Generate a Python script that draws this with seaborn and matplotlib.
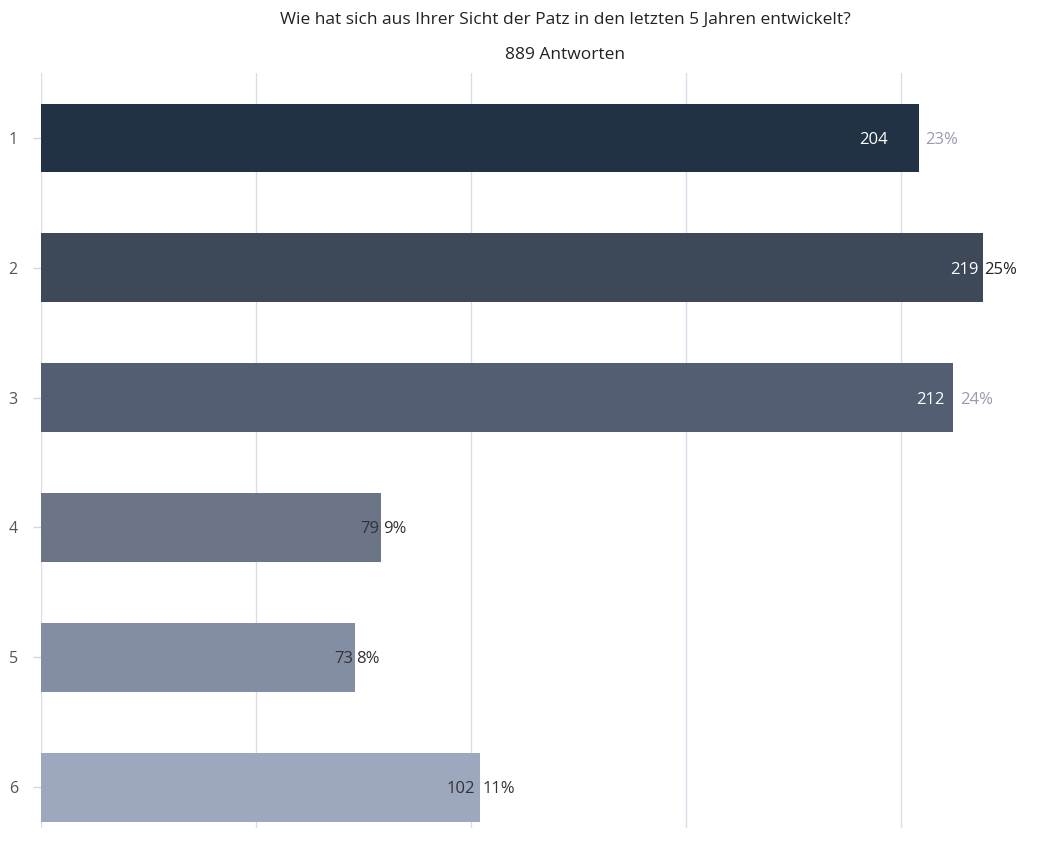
import matplotlib
matplotlib.use("Agg")
import matplotlib.pyplot as plt
import seaborn as sns
import pandas as pd

categories = ["1", "2", "3", "4", "5", "6"]
counts = [204, 219, 212, 79, 73, 102]
percents = ["23%", "25%", "24%", "9%", "8%", "11%"]
bar_colors = ["#213245", "#3d4859", "#535e73", "#6b7587", "#838ea5", "#9da8bf"]
count_colors = ["#ffffff", "#ffffff", "#ffffff", "#333333", "#333333", "#333333"]
pct_colors = ["#9b9ab3", "#222222", "#9b9ab3", "#333333", "#333333", "#333333"]
count_offsets = [7.2, 1.0, 2.0, 0.4, 0.4, 1.2]
pct_offsets = [1.6, 0.2, 1.6, 0.4, 0.2, 0.7]

sns.set_theme(style="white")
plt.rcParams['font.family'] = ['Open Sans', 'DejaVu Sans']

df = pd.DataFrame({"cat": categories, "count": counts})

fig = plt.figure(figsize=(10.5, 8.51), dpi=100)
ax = fig.add_axes([41.4/1050, 1-828/851, (1040-41.4)/1050, (828-73)/851])

sns.barplot(data=df, y="cat", x="count", hue="cat", palette=bar_colors,
            legend=False, width=0.53, ax=ax, orient="h", saturation=1,
            linewidth=0, edgecolor="none")

ax.set_xlim(0, (1040-41.4)/4.3)
ax.set_ylim(5.315, -0.5)
ax.set_xticks([0, 50, 100, 150, 200])
ax.set_xticklabels([])
ax.grid(axis="x", color="#dcdbe8", linewidth=1)
ax.set_axisbelow(True)
for s in ax.spines.values():
    s.set_visible(False)
ax.set_xlabel("")
ax.set_ylabel("")
ax.tick_params(axis="y", length=6, color="#d5d5dd", width=1, labelsize=11.5,
               labelcolor="#555555", pad=11, left=True)
ax.tick_params(axis="x", length=0)

for i, (v, pc) in enumerate(zip(counts, percents)):
    ax.text(v - count_offsets[i], i, str(v), ha="right", va="center_baseline",
            color=count_colors[i], fontsize=12, zorder=5)
    ax.text(v + pct_offsets[i], i, pc, ha="left", va="center_baseline",
            color=pct_colors[i], fontsize=12, zorder=5)

fig.text(565/1050, 1-20/851, "Wie hat sich aus Ihrer Sicht der Patz in den letzten 5 Jahren entwickelt?",
         ha="center", va="center", fontsize=12.5, color="#222222")
fig.text(565/1050, 1-55/851, "889 Antworten", ha="center", va="center",
         fontsize=12.5, color="#222222")

fig.savefig("out.png", dpi=100)
